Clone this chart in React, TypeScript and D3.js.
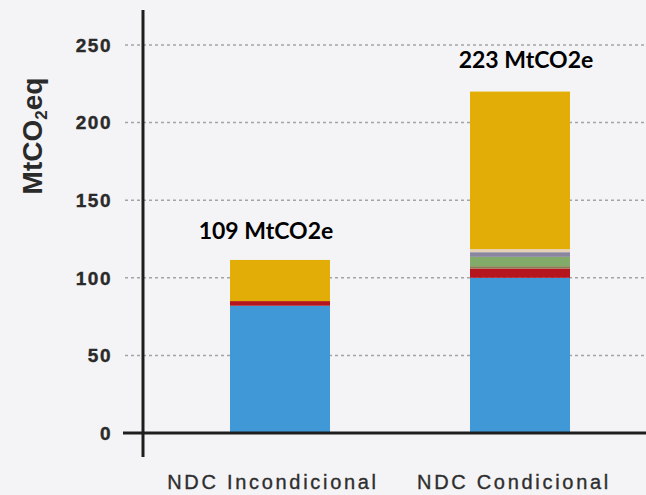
import React from "react";
import * as d3 from "d3";

const categories = ["NDC Incondicional", "NDC Condicional"];
const seriesKeys = ["base", "red", "dark", "green", "purple", "pale", "yellow"];
const seriesColors = ["#4198d7", "#b5151d", "#8d7f55", "#82ab69", "#8b86a0", "#e6d0b6", "#e2ad07"];
const base = [82, 100];
const red = [3, 6];
const dark = [0, 1.5];
const green = [0, 6];
const purple = [0, 3];
const pale = [0, 2];
const yellow = [26.5, 101.5];
const totalLabels = ["109 MtCO2e", "223 MtCO2e"];
const yTicks = [0, 50, 100, 150, 200, 250];

const W = 646;
const H = 495;

export default function App() {
  const rows = categories.map((c, i) => ({
    cat: c,
    base: base[i],
    red: red[i],
    dark: dark[i],
    green: green[i],
    purple: purple[i],
    pale: pale[i],
    yellow: yellow[i],
  }));
  const stack = d3.stack<any>().keys(seriesKeys)(rows);

  const x = d3
    .scaleBand<string>()
    .domain(categories)
    .range([160, 640])
    .paddingInner(140 / 240)
    .paddingOuter(0.2917);
  const y = d3.scaleLinear().domain([0, 250]).range([433, 45]);

  const axisX = 143;
  const labelDx = [-14, 6];
  const labelGap = [21, 24];

  return (
    <svg
      width={W}
      height={H}
      style={{ position: "absolute", left: 0, top: 0, background: "#f4f4f6" }}
    >
      <rect x={0} y={0} width={W} height={H} fill="#f4f4f6" />
      {/* gridlines */}
      {yTicks
        .filter((t) => t > 0)
        .map((t) => (
          <line
            key={t}
            x1={125}
            x2={W}
            y1={y(t)}
            y2={y(t)}
            stroke="#a4a4a8"
            strokeWidth={1.5}
            strokeDasharray="3,3"
          />
        ))}
      {/* bars */}
      {stack.map((s, si) =>
        s.map((d, i) => (
          <rect
            key={si + "-" + i}
            x={x(categories[i])}
            width={x.bandwidth()}
            y={y(d[1])}
            height={Math.max(0, y(d[0]) - y(d[1]))}
            fill={seriesColors[si]}
          />
        ))
      )}
      {/* axes */}
      <line x1={123} x2={W} y1={y(0)} y2={y(0)} stroke="#1e1e1e" strokeWidth={3} />
      <line x1={axisX} x2={axisX} y1={10} y2={457} stroke="#1e1e1e" strokeWidth={3} />
      {/* y tick labels */}
      {yTicks.map((t) => (
        <text
          key={t}
          x={112}
          y={y(t)}
          dy="0.36em"
          textAnchor="end"
          fontFamily="Liberation Sans, Arial, sans-serif"
          fontWeight="bold"
          fontSize={19}
          letterSpacing={1.5}
          fill="#2a2a2a"
          stroke="#2a2a2a"
          strokeWidth={0.4}
        >
          {t}
        </text>
      ))}
      {/* y title */}
      <text
        transform={`translate(42, 136) rotate(-90)`}
        textAnchor="middle"
        fontFamily="Liberation Sans, Arial, sans-serif"
        fontWeight="bold"
        fontSize={28}
        fill="#2a2a2a"
      >
        MtCO<tspan fontSize={17} dy={5}>2</tspan>
        <tspan dy={-5}>eq</tspan>
      </text>
      {/* x labels */}
      {categories.map((c, i) => (
        <text
          key={c}
          x={(x(c) as number) + x.bandwidth() / 2 + (i === 0 ? -7 : -6)}
          y={489}
          textAnchor="middle"
          fontFamily="Liberation Sans, Arial, sans-serif"
          fontSize={20}
          letterSpacing={2.7}
          fill="#2e2e2e"
          stroke="#2e2e2e"
          strokeWidth={0.35}
        >
          {c}
        </text>
      ))}
      {/* total labels */}
      {categories.map((c, i) => {
        const top = stack[stack.length - 1][i][1];
        return (
          <text
            key={c}
            x={(x(c) as number) + x.bandwidth() / 2 + labelDx[i]}
            y={y(top) - labelGap[i]}
            textAnchor="middle"
            fontFamily="Lato, 'Open Sans', sans-serif"
            fontWeight="bold"
            fontSize={23}
            fill="#000"
          >
            {totalLabels[i]}
          </text>
        );
      })}
    </svg>
  );
}
